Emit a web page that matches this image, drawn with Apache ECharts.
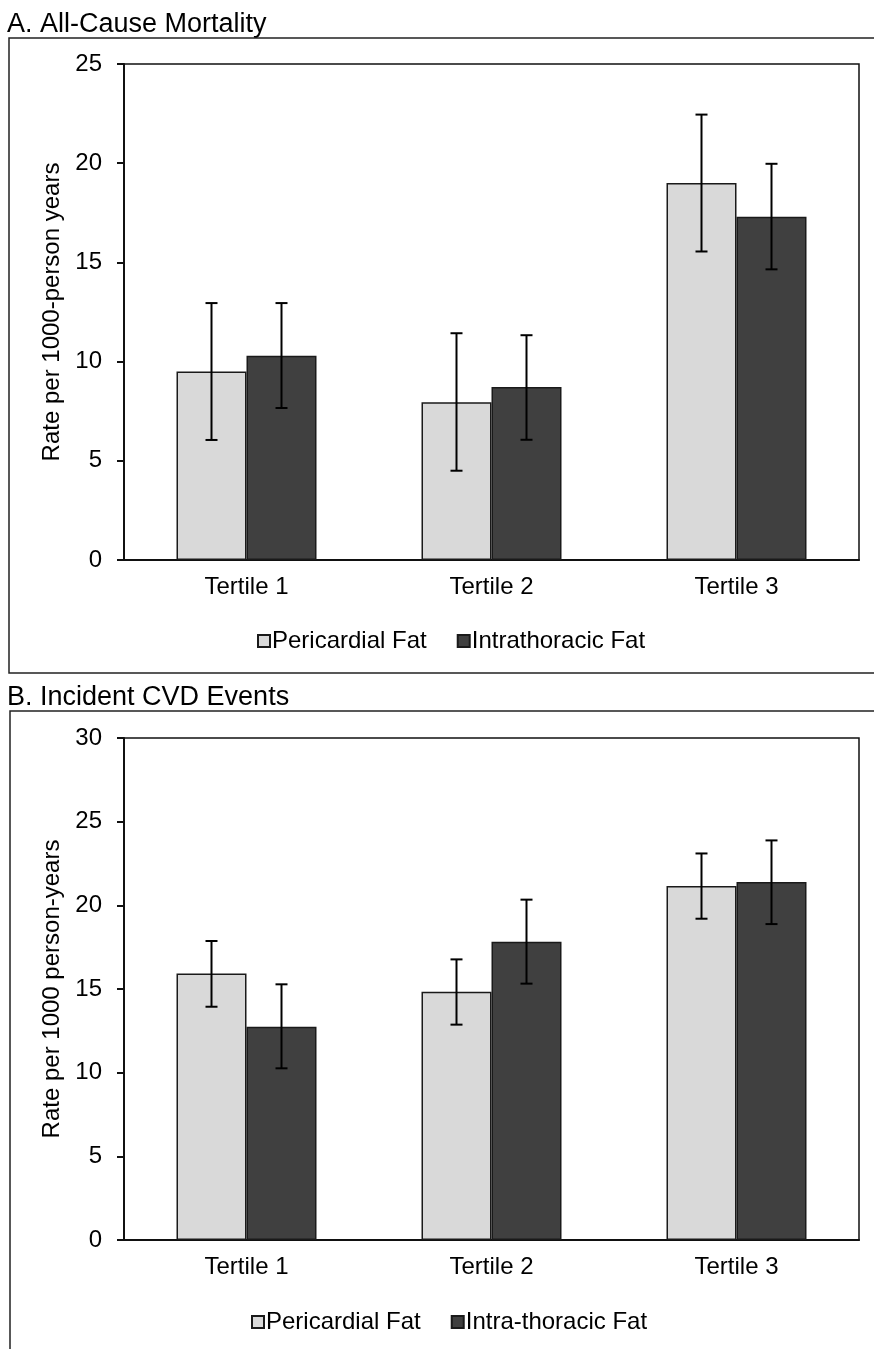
<!DOCTYPE html>
<html>
<head>
<meta charset="utf-8">
<script src="https://cdn.jsdelivr.net/npm/echarts@6/dist/echarts.min.js"></script>
<style>
html, body { margin: 0; padding: 0; background: #fff; }
#main { width: 874px; height: 1349px; }
</style>
</head>
<body>
<div id="main"></div>
<script>
// categories
var categories = ['Tertile 1', 'Tertile 2', 'Tertile 3'];

// A. All-Cause Mortality (rate per 1000 person years)
var mortPeri = [9.5, 7.95, 19.0];
var mortPeriLo = [6.05, 4.5, 15.55];
var mortPeriHi = [12.95, 11.43, 22.45];
var mortIntra = [10.3, 8.72, 17.3];
var mortIntraLo = [7.66, 6.06, 14.65];
var mortIntraHi = [12.95, 11.33, 19.97];

// B. Incident CVD Events
var cvdPeri = [15.93, 14.83, 21.15];
var cvdPeriLo = [13.94, 12.87, 19.2];
var cvdPeriHi = [17.87, 16.77, 23.1];
var cvdIntra = [12.75, 17.83, 21.39];
var cvdIntraLo = [10.26, 15.32, 18.88];
var cvdIntraHi = [15.28, 20.34, 23.88];

// axis ticks
var mortTicks = { min: 0, max: 25, interval: 5 };
var cvdTicks = { min: 0, max: 30, interval: 5 };

var FONT = '"Liberation Sans", Arial, sans-serif';
var LIGHT = '#d9d9d9';
var DARK = '#404040';
var BAR_W = 70;

function yAxis(idx, ticks, name) {
    return {
        type: 'value',
        gridIndex: idx,
        min: ticks.min,
        max: ticks.max,
        interval: ticks.interval,
        name: name,
        nameLocation: 'middle',
        nameGap: 58,
        nameTextStyle: { fontFamily: FONT, fontSize: 24, color: '#000' },
        axisLine: { show: true, lineStyle: { color: '#111', width: 2 } },
        axisTick: { show: true, length: 7, lineStyle: { color: '#111', width: 2 } },
        axisLabel: { margin: 22, fontFamily: FONT, fontSize: 24, color: '#000' },
        splitLine: { show: false }
    };
}

function xAxis(idx) {
    return {
        type: 'category',
        gridIndex: idx,
        data: categories,
        axisLine: { show: true, lineStyle: { color: '#111', width: 2 } },
        axisTick: { show: false },
        axisLabel: { margin: 15, fontFamily: FONT, fontSize: 24, color: '#000' }
    };
}

function bars(name, idx, values, color) {
    return {
        name: name,
        type: 'bar',
        xAxisIndex: idx,
        yAxisIndex: idx,
        data: values,
        barWidth: BAR_W,
        barGap: '0%',
        itemStyle: { color: color, borderColor: '#1a1a1a', borderWidth: 1.5 }
    };
}

// error bar drawn on top of the bar, shifted to the bar centre
function errorBars(idx, lo, hi, shift) {
    var data = categories.map(function (c, i) { return [i, lo[i], hi[i]]; });
    return {
        type: 'custom',
        xAxisIndex: idx,
        yAxisIndex: idx,
        silent: true,
        z: 10,
        renderItem: function (params, api) {
            var top = api.coord([api.value(0), api.value(2)]);
            var bot = api.coord([api.value(0), api.value(1)]);
            var cx = top[0] + shift;
            var cap = 6;
            var st = { stroke: '#000', lineWidth: 2 };
            return {
                type: 'group',
                children: [
                    { type: 'line', shape: { x1: cx, y1: top[1], x2: cx, y2: bot[1] }, style: st },
                    { type: 'line', shape: { x1: cx - cap, y1: top[1], x2: cx + cap, y2: top[1] }, style: st },
                    { type: 'line', shape: { x1: cx - cap, y1: bot[1], x2: cx + cap, y2: bot[1] }, style: st }
                ]
            };
        },
        data: data
    };
}

function legend(names, left, top) {
    return {
        data: names,
        left: left,
        top: top,
        icon: 'rect',
        itemWidth: 12,
        itemHeight: 12,
        itemGap: 30,
        selectedMode: false,
        textStyle: { fontFamily: FONT, fontSize: 24, color: '#000', padding: [0, 0, 0, -3] }
    };
}

var chart = echarts.init(document.getElementById('main'));

var option = {
    animation: false,
    backgroundColor: '#fff',
    grid: [
        { left: 124, right: 15, top: 64, height: 496, show: true, borderColor: '#111', borderWidth: 1.5 },
        { left: 124, right: 15, top: 738, height: 502, show: true, borderColor: '#111', borderWidth: 1.5 }
    ],
    legend: [
        legend(['Pericardial Fat', 'Intrathoracic Fat'], 252, 624),
        legend(['Pericardial Fat', 'Intra-thoracic Fat'], 246, 1305)
    ],
    xAxis: [xAxis(0), xAxis(1)],
    yAxis: [
        yAxis(0, mortTicks, 'Rate per 1000-person years'),
        yAxis(1, cvdTicks, 'Rate per 1000 person-years')
    ],
    series: [
        bars('Pericardial Fat', 0, mortPeri, LIGHT),
        bars('Intrathoracic Fat', 0, mortIntra, DARK),
        errorBars(0, mortPeriLo, mortPeriHi, -BAR_W / 2),
        errorBars(0, mortIntraLo, mortIntraHi, BAR_W / 2),
        bars('Pericardial Fat', 1, cvdPeri, LIGHT),
        bars('Intra-thoracic Fat', 1, cvdIntra, DARK),
        errorBars(1, cvdPeriLo, cvdPeriHi, -BAR_W / 2),
        errorBars(1, cvdIntraLo, cvdIntraHi, BAR_W / 2)
    ],
    graphic: [
        { type: 'text', left: 7, top: 11, style: { text: 'A. All-Cause Mortality', font: '27px ' + FONT, fill: '#000' } },
        { type: 'polyline', shape: { points: [[874, 38], [9, 38], [9, 673], [874, 673]] },
          style: { stroke: '#222', lineWidth: 1.5, fill: null } },
        { type: 'text', left: 7, top: 684, style: { text: 'B. Incident CVD Events', font: '27px ' + FONT, fill: '#000' } },
        { type: 'polyline', shape: { points: [[874, 711], [10, 711], [10, 1349]] },
          style: { stroke: '#222', lineWidth: 1.5, fill: null } }
    ]
};

chart.setOption(option);
</script>
</body>
</html>
